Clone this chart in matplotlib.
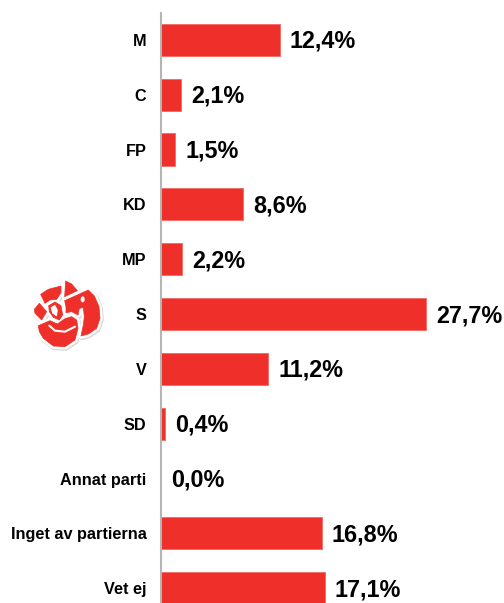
#!/usr/bin/env python3
"""Party sympathy bars with the rose logo on the left."""
import matplotlib
matplotlib.use("Agg")
import matplotlib.pyplot as plt
from matplotlib.patches import Ellipse, Polygon

W, H = 504, 603
RED = "#ef2f29"

parties = ["M", "C", "FP", "KD", "MP", "S", "V", "SD", "Annat parti",
           "Inget av partierna", "Vet ej"]
shares = [12.4, 2.1, 1.5, 8.6, 2.2, 27.7, 11.2, 0.4, 0.0, 16.8, 17.1]

petals = [
    [(197, 63), (215, 72), (232, 92), (194, 110)],
    [(122, 103), (145, 88), (183, 78), (183, 98), (170, 118), (150, 120), (135, 130)],
    [(194, 122), (265, 90), (283, 108), (297, 140), (300, 175), (290, 205), (265, 222), (243, 228),
     (250, 195), (253, 170), (250, 143), (238, 145), (234, 165), (215, 155), (198, 158), (198, 140)],
    [(103, 148), (118, 130), (140, 155), (125, 180), (105, 160)],
    [(115, 197), (150, 182), (172, 192), (195, 176), (215, 170), (230, 180), (234, 205), (225, 240),
     (195, 260), (160, 258), (130, 235), (118, 215)],
    [(146, 137), (165, 126), (183, 137), (188, 165), (178, 180), (160, 172), (148, 155)],
]
tear = [(153, 143), (165, 136), (172, 150), (170, 168), (158, 160)]
smile = [(148, 197), (165, 212), (195, 215), (225, 200)]


def to_px(pts):
    return [(px / 3, 260 + py / 3) for px, py in pts]


plt.rcParams["font.family"] = ["Liberation Sans", "DejaVu Sans"]
plt.rcParams["font.weight"] = "bold"

fig = plt.figure(figsize=(W / 100, H / 100), dpi=100)
ax = fig.add_axes([161 / W, 0, (W - 161) / W, 590 / H])
y = list(range(len(parties)))
ax.barh(y, shares, height=0.585, color=RED, edgecolor="#f4685f", linewidth=0.6)
ax.set_xlim(0, (W - 161) / 9.58)
ax.set_ylim(10.27, -0.49)
ax.set_yticks(y, parties, fontsize=11.7)
ax.tick_params(axis="y", length=0, pad=10.5)
ax.set_xticks([])
for side in ["top", "right", "bottom"]:
    ax.spines[side].set_visible(False)
ax.spines["left"].set_color("#b5b5b5")
ax.spines["left"].set_linewidth(1.5)
for yi, v in zip(y, shares):
    ax.annotate(f"{v:.1f}%".replace(".", ","), (v, yi), xytext=(10, -1.5), textcoords="offset pixels",
                va="center", fontsize=16.8, annotation_clip=False)

# logo sits on its own overlay in pixel coordinates
lg = fig.add_axes([0, 0, 1, 1], facecolor="none")
lg.set_xlim(0, W)
lg.set_ylim(H, 0)
lg.axis("off")
for p in petals:
    pts = to_px(p)
    lg.add_patch(Polygon([(px + 0.7, py + 1) for px, py in pts], closed=True, fc="#d8d8d8", ec="#d8d8d8",
                         lw=4.5, joinstyle="round"))
for p in petals:
    lg.add_patch(Polygon(to_px(p), closed=True, fc="white", ec="white", lw=4, joinstyle="round"))
for p in petals:
    lg.add_patch(Polygon(to_px(p), closed=True, fc=RED, ec=RED, lw=0.5, joinstyle="round"))
lg.add_patch(Polygon(to_px(tear), closed=True, fc="white", ec="white", lw=0.5))
lg.add_patch(Ellipse((248 / 3, 260 + 118 / 3), 4, 6, fc="white", ec="none"))
xs, ys = zip(*to_px(smile))
lg.plot(xs, ys, color="white", lw=1.5, solid_capstyle="round")
fig.savefig("out.png", dpi=100)
